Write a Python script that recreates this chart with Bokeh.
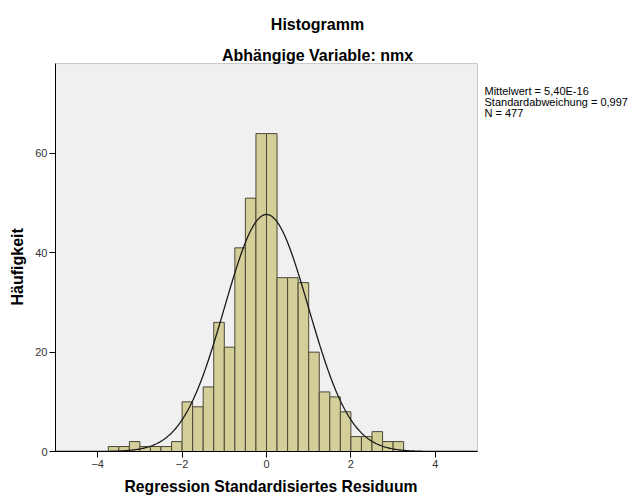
import numpy as np
from bokeh.plotting import figure
from bokeh.models import Label, FixedTicker, Range1d, BoxAnnotation, Title
from bokeh.embed import file_html
from bokeh.resources import INLINE

# ---- data ----
bin_start = -3.75
bin_width = 0.25
counts = [1, 1, 2, 1, 1, 1, 2, 10, 9, 13,
          26, 21, 41, 51, 64, 64,
          35, 35, 34, 20, 12, 11, 8, 3, 3, 4, 2, 2]
mean_val = 5.40e-16
sd_val = 0.997
n_val = 477
x_ticks = [-4, -2, 0, 2, 4]
y_ticks = [0, 20, 40, 60]
title_main = "Histogramm"
title_sub = "Abhängige Variable: nmx"
x_label = "Regression Standardisiertes Residuum"
y_label = "Häufigkeit"
stats_lines = ["Mittelwert = 5,40E-16", "Standardabweichung = 0,997", "N = 477"]

FONT = "Liberation Sans"

# plot-area extents (data space) and full frame extents
x_lo, x_hi = -5, 5
y_lo, y_hi = 0, 78.1
frame_x_hi = 8.673
frame_y_hi = 90.8

edges = bin_start + bin_width * np.arange(len(counts) + 1)
lefts = edges[:-1]
rights = edges[1:]

xs = np.linspace(x_lo, x_hi, 400)
curve = n_val * bin_width * np.exp(-0.5 * ((xs - mean_val) / sd_val) ** 2) / (sd_val * np.sqrt(2 * np.pi))

p = figure(width=632, height=501, output_backend="svg", toolbar_location=None,
           x_range=Range1d(x_lo, frame_x_hi), y_range=Range1d(y_lo, frame_y_hi),
           min_border_left=55, min_border_right=0, min_border_top=0, min_border_bottom=50)

p.background_fill_color = "white"
p.border_fill_color = "white"
p.outline_line_color = None
p.grid.visible = False

p.add_layout(BoxAnnotation(left=x_lo, right=x_hi, bottom=y_lo, top=y_hi,
                           fill_color="#F0F0F0", fill_alpha=1.0,
                           line_color="#555555", line_width=1, level="underlay"))

p.quad(left=lefts, right=rights, top=counts, bottom=0,
       fill_color="#D4CE98", line_color="#4a4838", line_width=1)
p.line(xs, curve, line_color="#1a1a1a", line_width=1.3)

for ax in (p.xaxis[0], p.yaxis[0]):
    ax.axis_line_color = "black"
    ax.axis_line_width = 1
    ax.major_tick_line_color = "black"
    ax.major_tick_out = 6
    ax.major_tick_in = 0
    ax.minor_tick_line_color = None
    ax.major_label_text_font = FONT
    ax.major_label_text_font_size = "11px"
    ax.major_label_text_color = "#333333"
    ax.major_label_standoff = 2

p.xaxis.bounds = (x_lo, x_hi)
p.yaxis.bounds = (y_lo, y_hi)
p.xaxis.ticker = FixedTicker(ticks=x_ticks)
p.yaxis.ticker = FixedTicker(ticks=y_ticks)

# axis titles as side-panel titles so they can be positioned along the plot area
p.add_layout(Title(text=x_label, align="left", offset=69, text_font=FONT,
                   text_font_size="15.7px", text_font_style="bold", text_color="black",
                   standoff=10), "below")
p.add_layout(Title(text=y_label, align="left", offset=146, text_font=FONT,
                   text_font_size="16px", text_font_style="bold", text_color="black",
                   standoff=13), "left")

def lab(x, y, t, size, bold=False, align="left"):
    p.add_layout(Label(x=x, y=y, text=t, text_font=FONT, text_font_size=size,
                       text_font_style="bold" if bold else "normal", text_color="black",
                       text_align=align, text_baseline="alphabetic"))

lab(1.209, 85.87, title_main, "16px", bold=True, align="center")
lab(1.209, 79.73, title_sub, "16px", bold=True, align="center")
for i, t in enumerate(stats_lines):
    lab(5.166, 72.68 - i * 2.215, t, "11px")

open("out.html", "w").write(file_html(p, INLINE))
